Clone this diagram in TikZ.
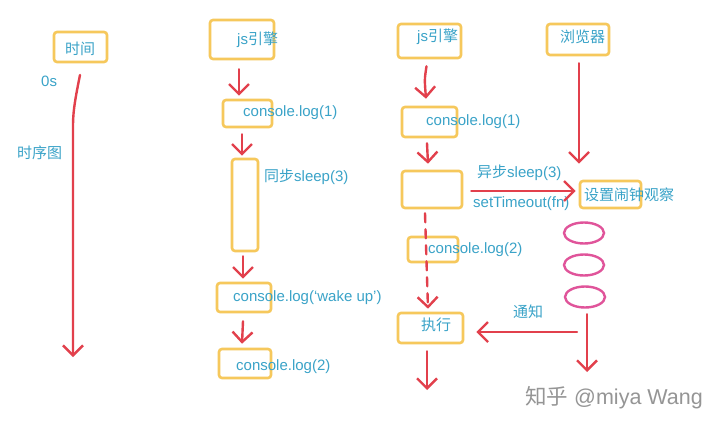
\documentclass[tikz,border=0pt]{standalone}
\usepackage{fontspec}
\setmainfont{Liberation Sans}
\newfontfamily\cjk{Noto Sans CJK SC}
\usetikzlibrary{arrows.meta,shapes.geometric}
\definecolor{boxy}{HTML}{F6C85C}
\definecolor{txtb}{HTML}{3AA3C8}
\definecolor{redl}{HTML}{E2404C}
\definecolor{pinkl}{HTML}{E0549A}
\definecolor{wmark}{HTML}{959595}
\tikzset{
  ybox/.style={draw=boxy, line width=2.6pt, rounded corners=3pt, inner sep=0pt},
  lbl/.style={text=txtb, font=\fontsize{15}{16}\selectfont, inner sep=0pt, anchor=west},
  rarrow/.style={draw=redl, line width=2.4pt, line cap=round, line join=round,
    -{Straight Barb[length=10pt,width=20pt,line width=2.4pt]}},
  pell/.style={draw=pinkl, line width=2.4pt, ellipse, minimum width=40pt, minimum height=21pt, inner sep=0pt},
}
\begin{document}
\begin{tikzpicture}[x=1pt,y=-1pt]
\useasboundingbox (0,0) rectangle (720,431);
\fill[white] (0,0) rectangle (720,431);
% column 1: time
\node[ybox, minimum width=53pt, minimum height=30pt] (tbox) at (80.5,47) {};
\node[lbl, anchor=center] (tlab) at (80,49) {\cjk 时间};
\node[lbl] (zero) at (41,81) {0s};
\node[lbl] (seq) at (17,153) {\cjk 时序图};
\coordinate (t0) at (80,75);
\coordinate (t1) at (73,357);
\draw[rarrow] (t0) .. controls (76,95) and (73,110) .. (73,125) -- (t1);

% column 2: synchronous
\node[ybox, minimum width=64pt, minimum height=39pt] (je1) at (242,39.5) {};
\node[lbl] (je1t) at (237,40) {js{\cjk 引擎}};
\node[ybox, minimum width=49pt, minimum height=27pt] (c1) at (247.5,113.5) {};
\node[lbl] (c1t) at (243,113) {console.log(1)};
\node[ybox, minimum width=26pt, minimum height=92pt] (sl) at (245,205) {};
\node[lbl] (slt) at (264,177) {{\cjk 同步}sleep(3)};
\node[ybox, minimum width=54pt, minimum height=29pt] (wk) at (244,297.5) {};
\node[lbl] (wkt) at (233,298) {console.log(‘wake up’)};
\node[ybox, minimum width=52pt, minimum height=29pt] (c2) at (245,363.5) {};
\node[lbl] (c2t) at (236,367) {console.log(2)};
\draw[rarrow] ([xshift=-3pt,yshift=-9pt]je1.south) -- ([xshift=-8.5pt,yshift=3pt]c1.north);
\draw[rarrow] ([xshift=-5.5pt,yshift=-6pt]c1.south) -- ([xshift=-3pt,yshift=2pt]sl.north);
\draw[rarrow] ([xshift=-2pt,yshift=-4pt]sl.south) -- ([xshift=-1pt,yshift=3pt]wk.north);
\draw[rarrow] ([xshift=-1pt,yshift=-8pt]wk.south) -- ([xshift=-3pt,yshift=4pt]c2.north);

% column 3: asynchronous
\node[ybox, minimum width=63pt, minimum height=34pt] (je2) at (429.5,41) {};
\node[lbl] (je2t) at (417,37) {js{\cjk 引擎}};
\node[ybox, minimum width=55pt, minimum height=30pt] (d1) at (429.5,122) {};
\node[lbl] (d1t) at (426,122) {console.log(1)};
\node[ybox, minimum width=60pt, minimum height=37pt] (eb) at (432,189.5) {};
\node[ybox, minimum width=50pt, minimum height=25pt] (d2) at (433,249.5) {};
\node[lbl] (d2t) at (428,250) {console.log(2)};
\node[ybox, minimum width=65pt, minimum height=30pt] (ex) at (430.5,328) {};
\node[lbl] (ext) at (421,325) {\cjk 执行};
\coordinate (exend) at (427,390);
\draw[rarrow] ([xshift=-3pt,yshift=-7pt]je2.south) .. controls ([xshift=-5pt,yshift=-20pt]je2.south) .. ([xshift=-3.5pt,yshift=7pt]d1.north);
\draw[rarrow] ([xshift=-2.5pt,yshift=-5pt]d1.south) -- ([xshift=-4pt,yshift=6pt]eb.north);
\draw[rarrow, dash pattern=on 9pt off 7pt] ([xshift=-7pt,yshift=-4pt]eb.south) -- ([xshift=-2.5pt,yshift=3pt]ex.north);
\draw[rarrow] ([xshift=-3.5pt,yshift=-7pt]ex.south) -- (exend);

% column 4: browser
\node[ybox, minimum width=62pt, minimum height=31pt] (br) at (578,39.5) {};
\node[lbl] (brt) at (560,37) {\cjk 浏览器};
\node[ybox, minimum width=61pt, minimum height=27pt] (al) at (610.5,194.5) {};
\node[lbl] (alt) at (584,195) {\cjk 设置闹钟观察};
\node[pell] (e1) at (584,233) {};
\node[pell] (e2) at (584,265) {};
\node[pell] (e3) at (585,297) {};
\coordinate (brend) at (587,372);
\draw[rarrow] ([xshift=1pt,yshift=-7pt]br.south) -- ([xshift=-31.5pt,yshift=16pt]al.north);
\draw[rarrow] ([xshift=2pt,yshift=-5.5pt]e3.south) -- (brend);

% async call and notification
\node[lbl] (asl) at (477,173) {{\cjk 异步}sleep(3)};
\node[lbl] (sto) at (473,204) {setTimeout(fn)};
\draw[rarrow] ([xshift=8pt,yshift=-1.5pt]eb.east) -- ([xshift=-3pt,yshift=3.5pt]al.west);
\coordinate (nstart) at (577,332);
\node[lbl] (ntf) at (513,312) {\cjk 通知};
\draw[rarrow] (nstart) -- ([xshift=12pt,yshift=-4pt]ex.east);

% watermark
\node[text=wmark, font=\fontsize{21.5}{23}\selectfont, inner sep=0pt, anchor=east] (wm) at (703,398) {{\cjk 知乎} @miya Wang};
\end{tikzpicture}
\end{document}
